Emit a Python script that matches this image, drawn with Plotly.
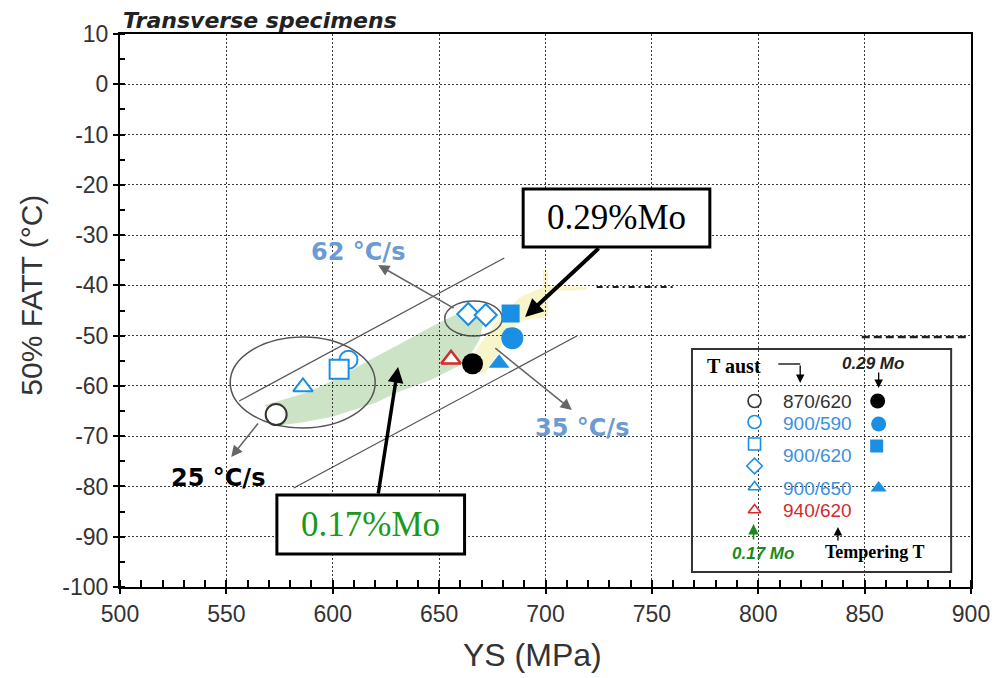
import plotly.graph_objects as go

# ---------------- data (YS in MPa, 50% FATT in degC) ----------------
# 0.17 % Mo steels (open symbols)
ys_870_620_017 = [573.4]
fatt_870_620_017 = [-65.7]
ys_900_590_017 = [607.4]
fatt_900_590_017 = [-54.8]
ys_900_620_017_sq = [603.0]
fatt_900_620_017_sq = [-56.7]
ys_900_620_017_dm = [663.7, 671.9]
fatt_900_620_017_dm = [-45.7, -45.9]
ys_900_650_017 = [586.0]
fatt_900_650_017 = [-60.2]
ys_940_620_017 = [655.6]
fatt_940_620_017 = [-54.7]
# 0.29 % Mo steels (filled symbols)
ys_870_620_029 = [665.7]
fatt_870_620_029 = [-55.6]
ys_900_590_029 = [684.4]
fatt_900_590_029 = [-50.5]
ys_900_620_029 = [683.6]
fatt_900_620_029 = [-45.6]
ys_900_650_029 = [678.2]
fatt_900_650_029 = [-55.5]

x_ticks = [500, 550, 600, 650, 700, 750, 800, 850, 900]
y_ticks = [10, 0, -10, -20, -30, -40, -50, -60, -70, -80, -90, -100]
y_tick_text = ["10", "0", "-10", "-20", "-30", "-40", "-50", "-60", "-70", "-80", "-90", "-100"]
legend_labels = ["870/620", "900/590", "900/620", "900/650", "940/620"]

BLUE = "#1a8fe3"
BLUE_T = "#3d8fe0"
RED = "#d42a2a"
SPEED = "#6b9bd2"
SANS = "Liberation Sans, Arial, sans-serif"
SERIF = "Liberation Serif, Times New Roman, serif"

fig = go.Figure()

def pts(x, y, symbol, size, color, fill, lw=2):
    fig.add_trace(go.Scatter(
        x=x, y=y, mode="markers", showlegend=False, hoverinfo="skip",
        marker=dict(symbol=symbol, size=size, color=fill,
                    line=dict(color=color, width=lw))))

# open symbols
pts(ys_870_620_017, fatt_870_620_017, "circle", 21, "#333333", "white")
pts(ys_900_590_017, fatt_900_590_017, "circle", 18, BLUE, "white")
pts(ys_900_620_017_sq, fatt_900_620_017_sq, "square", 19, BLUE, "white")
pts(ys_900_620_017_dm, fatt_900_620_017_dm, "diamond", 17, BLUE, "white")
pts(ys_900_650_017, fatt_900_650_017, "triangle-up", 17, BLUE, "white")
pts(ys_940_620_017, fatt_940_620_017, "triangle-up", 17, RED, "white", 2.5)
# filled symbols
pts(ys_870_620_029, fatt_870_620_029, "circle", 21, "black", "black", 0)
pts(ys_900_590_029, fatt_900_590_029, "circle", 22, BLUE, BLUE, 0)
pts(ys_900_620_029, fatt_900_620_029, "square", 18, BLUE, BLUE, 0)
pts(ys_900_650_029, fatt_900_650_029, "triangle-up", 18, BLUE, BLUE, 0)

# legend glyphs on a screen-pixel-like overlay axis (x3/y3)
def glyph(px, py, symbol, size, color, fill, lw=1.6):
    fig.add_trace(go.Scatter(
        x=[px], y=[py], xaxis="x3", yaxis="y3", mode="markers",
        showlegend=False, hoverinfo="skip",
        marker=dict(symbol=symbol, size=size, color=fill,
                    line=dict(color=color, width=lw))))

glyph(759, 401, "circle", 13, "#333333", "white")
glyph(759, 422, "circle", 13, BLUE, "white")
glyph(759, 444, "square", 12, BLUE, "white")
glyph(759, 466, "diamond", 12, BLUE, "white")
glyph(759, 487, "triangle-up", 11, BLUE, "white")
glyph(759, 510, "triangle-up", 11, RED, "white")
glyph(883, 401, "circle", 15, "black", "black", 0)
glyph(884, 424, "circle", 15, BLUE, BLUE, 0)
glyph(882, 446, "square", 13, BLUE, BLUE, 0)
glyph(884, 488, "triangle-up", 14, BLUE, BLUE, 0)

# ---------------- decorations ----------------
shapes = []
def path(points):
    return "M " + " L ".join(f"{a},{b}" for a, b in points) + " Z"

green_band = [(266, 405), (310, 392), (333, 381), (377, 357), (400, 345), (433, 327),
              (453, 317), (472, 309), (488, 314), (482, 340), (468, 362), (453, 370),
              (433, 380), (400, 392), (377, 403), (333, 417), (300, 423), (276, 426)]
yellow_band = [(467, 373), (482, 345), (500, 320), (523, 297), (546, 287), (546, 270),
               (551, 270), (551, 285), (590, 287), (590, 290), (551, 291), (551, 317),
               (523, 321), (507, 340), (497, 360), (487, 374)]
shapes.append(dict(type="path", path=path(green_band), xref="x3", yref="y3",
                   fillcolor="rgba(196,222,188,0.85)", line=dict(width=0), layer="below"))
shapes.append(dict(type="path", path=path(yellow_band), xref="x3", yref="y3",
                   fillcolor="rgba(248,243,190,0.8)", line=dict(width=0), layer="below"))
for (a, b, c, d) in [(240, 401, 507, 258), (295, 488, 580, 336)]:
    shapes.append(dict(type="line", x0=a, y0=b, x1=c, y1=d, xref="x3", yref="y3",
                       line=dict(color="#555555", width=1.3), layer="below"))
shapes.append(dict(type="circle", x0=231, x1=377, y0=337, y1=428, xref="x3", yref="y3",
                   line=dict(color="#555555", width=1.5), layer="below"))
shapes.append(dict(type="circle", x0=447, x1=505, y0=301, y1=336, xref="x3", yref="y3",
                   line=dict(color="#555555", width=1.5), layer="below"))
shapes.append(dict(type="line", x0=600, x1=680, y0=287, y1=287, xref="x3", yref="y3",
                   line=dict(color="#222222", width=2, dash="6px,4px,2px,4px"), layer="below"))
shapes.append(dict(type="line", x0=867, x1=975, y0=337, y1=337, xref="x3", yref="y3",
                   line=dict(color="#222222", width=2.5, dash="8px,4px"), layer="below"))
shapes.append(dict(type="rect", x0=526, x1=714, y0=189, y1=247, xref="x3", yref="y3",
                   line=dict(color="black", width=3), fillcolor="white", layer="above"))
shapes.append(dict(type="rect", x0=278, x1=467, y0=495, y1=554, xref="x3", yref="y3",
                   line=dict(color="black", width=3), fillcolor="white", layer="above"))
shapes.append(dict(type="rect", x0=696, x1=957, y0=349, y1=572, xref="x3", yref="y3",
                   line=dict(color="#333333", width=2), fillcolor="white", layer="below"))
shapes.append(dict(type="line", x0=783, x1=805, y0=364, y1=364, xref="x3", yref="y3",
                   line=dict(color="black", width=1.3)))

# screen pixel -> paper coordinates (plot area spans 120..977 x 34..587)
def PX(sx):
    return (sx - 120) / 857.0

def PY(sy):
    return (587 - sy) / 553.0

annotations = []
def arrow(hx, hy, tx, ty, color, width, size=1.0, head=2):
    annotations.append(dict(x=PX(hx), y=PY(hy), xref="paper", yref="paper",
                            ax=tx - hx, ay=ty - hy, showarrow=True, text="",
                            arrowhead=head, arrowsize=size, arrowwidth=width,
                            arrowcolor=color))

def text(px, py, s, size, color="black", family=SANS, xanchor="center", angle=0):
    annotations.append(dict(x=PX(px), y=PY(py), xref="paper", yref="paper", text=s,
                            showarrow=False, xanchor=xanchor, yanchor="middle",
                            textangle=angle, borderpad=0,
                            font=dict(size=size, color=color, family=family)))

arrow(232, 457, 260, 422, "#666666", 1.6, 1.4)
arrow(380, 265, 457, 309, "#666666", 1.6, 1.4)
arrow(575, 410, 497, 347, "#666666", 1.6, 1.4)
arrow(528, 317, 603, 247, "black", 4, 0.9)
arrow(400, 367, 380, 495, "black", 3.5, 0.9)
arrow(805, 383, 805, 364, "black", 1.3, 1.3)
arrow(884, 388, 884, 371, "black", 1.3, 1.3)
arrow(758, 524, 758, 541, "#1a8a1a", 1.6, 1.3)
arrow(843, 527, 843, 542, "black", 1.3, 1.3)

text(122, 21, "<b><i>Transverse specimens</i></b>", 22, "#222222",
     "DejaVu Sans, Liberation Sans, sans-serif", xanchor="left")
text(30, 295, "50% FATT (°C)", 30, "#333333", SANS, angle=-90)
text(535, 655, "YS (MPa)", 32, "#333333", SANS)
text(620, 218, "0.29%Mo", 35, "black", SERIF)
text(372, 524, "0.17%Mo", 35, "#1a9a1a", SERIF)
text(360, 252, "<b>62 °C/s</b>", 24, SPEED, "DejaVu Sans, sans-serif")
text(585, 428, "<b>35 °C/s</b>", 24, SPEED, "DejaVu Sans, sans-serif")
text(219, 478, "<b>25 °C/s</b>", 24, "black", "DejaVu Sans, sans-serif")
text(738, 366, "<b>T aust</b>", 20, "black", SERIF)
text(878, 363, "<b><i>0.29 Mo</i></b>", 17, "#222222", SANS)
text(822, 401, legend_labels[0], 19, "#333333", SANS)
text(822, 423, legend_labels[1], 19, BLUE_T, SANS)
text(822, 455, legend_labels[2], 19, BLUE_T, SANS)
text(822, 488, legend_labels[3], 19, BLUE_T, SANS)
text(822, 510, legend_labels[4], 19, RED, SANS)
text(768, 553, "<b><i>0.17 Mo</i></b>", 17, "#1a8a1a", SANS)
text(880, 552, "<b>Tempering T</b>", 18, "black", SERIF)

axis_common = dict(showline=True, linecolor="black", linewidth=2, mirror=True,
                   zeroline=False, showgrid=True, gridcolor="#3a3a3a",
                   griddash="2px,2px", gridwidth=1,
                   ticks="outside", ticklen=5, tickwidth=2, tickcolor="black",
                   tickfont=dict(size=23, color="#333333", family=SANS))

fig.update_layout(
    width=994, height=670,
    margin=dict(l=112, r=25, t=26, b=91, pad=0),
    paper_bgcolor="white", plot_bgcolor="white",
    showlegend=False,
    xaxis=dict(range=[500, 900], tickvals=x_ticks,
               minor=dict(dtick=10, tick0=500, ticks="inside", ticklen=7,
                          tickwidth=1.5, tickcolor="black", showgrid=False),
               **axis_common),
    yaxis=dict(range=[-100, 10], tickvals=y_ticks, ticktext=y_tick_text,
               minor=dict(dtick=5, tick0=0, ticks="inside", ticklen=5,
                          tickwidth=1.5, tickcolor="black", showgrid=False),
               **axis_common),
    xaxis2=dict(overlaying="x", range=[500, 900], tickvals=x_ticks, ticks="inside",
                ticklen=10, tickwidth=2, tickcolor="black", showticklabels=False,
                showgrid=False, showline=False, zeroline=False, anchor="y"),
    yaxis2=dict(overlaying="y", range=[-100, 10], tickvals=y_ticks, ticks="inside",
                ticklen=7, tickwidth=2, tickcolor="black", showticklabels=False,
                showgrid=False, showline=False, zeroline=False, anchor="x",
                minor=dict(dtick=5, tick0=0, ticks="outside", ticklen=4,
                           tickwidth=1.5, tickcolor="black")),
    xaxis3=dict(overlaying="x", range=[120, 977], visible=False, anchor="y3"),
    yaxis3=dict(overlaying="y", range=[587, 34], visible=False, anchor="x3"),
    shapes=shapes,
    annotations=annotations,
)

fig.write_html("out.html")
